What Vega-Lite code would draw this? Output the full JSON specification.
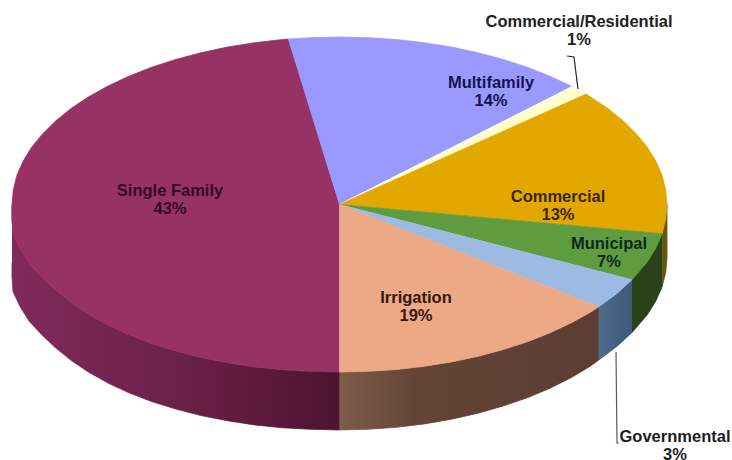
{
  "$schema": "https://vega.github.io/schema/vega-lite/v6.json",
  "width": 732,
  "height": 460,
  "padding": 0,
  "autosize": {"type": "none"},
  "background": "white",
  "view": {"stroke": null},
  "datasets": {
    "faces": [
      {"category":"Single Family","i":0,"x":0,"y":0},
      {"category":"Single Family","i":1,"x":-0.156,"y":0.988},
      {"category":"Single Family","i":2,"x":-0.174,"y":0.985},
      {"category":"Single Family","i":3,"x":-0.259,"y":0.966},
      {"category":"Single Family","i":4,"x":-0.342,"y":0.94},
      {"category":"Single Family","i":5,"x":-0.423,"y":0.906},
      {"category":"Single Family","i":6,"x":-0.5,"y":0.866},
      {"category":"Single Family","i":7,"x":-0.574,"y":0.819},
      {"category":"Single Family","i":8,"x":-0.643,"y":0.766},
      {"category":"Single Family","i":9,"x":-0.707,"y":0.707},
      {"category":"Single Family","i":10,"x":-0.766,"y":0.643},
      {"category":"Single Family","i":11,"x":-0.819,"y":0.574},
      {"category":"Single Family","i":12,"x":-0.866,"y":0.5},
      {"category":"Single Family","i":13,"x":-0.906,"y":0.423},
      {"category":"Single Family","i":14,"x":-0.94,"y":0.342},
      {"category":"Single Family","i":15,"x":-0.966,"y":0.259},
      {"category":"Single Family","i":16,"x":-0.985,"y":0.174},
      {"category":"Single Family","i":17,"x":-0.996,"y":0.087},
      {"category":"Single Family","i":18,"x":-1,"y":0},
      {"category":"Single Family","i":19,"x":-1,"y":-0.087},
      {"category":"Single Family","i":20,"x":-0.997,"y":-0.174},
      {"category":"Single Family","i":21,"x":-0.975,"y":-0.265},
      {"category":"Single Family","i":22,"x":-0.948,"y":-0.35},
      {"category":"Single Family","i":23,"x":-0.91,"y":-0.43},
      {"category":"Single Family","i":24,"x":-0.868,"y":-0.508},
      {"category":"Single Family","i":25,"x":-0.82,"y":-0.584},
      {"category":"Single Family","i":26,"x":-0.766,"y":-0.655},
      {"category":"Single Family","i":27,"x":-0.707,"y":-0.72},
      {"category":"Single Family","i":28,"x":-0.643,"y":-0.778},
      {"category":"Single Family","i":29,"x":-0.574,"y":-0.83},
      {"category":"Single Family","i":30,"x":-0.5,"y":-0.875},
      {"category":"Single Family","i":31,"x":-0.423,"y":-0.914},
      {"category":"Single Family","i":32,"x":-0.342,"y":-0.945},
      {"category":"Single Family","i":33,"x":-0.259,"y":-0.97},
      {"category":"Single Family","i":34,"x":-0.174,"y":-0.987},
      {"category":"Single Family","i":35,"x":-0.087,"y":-0.996},
      {"category":"Single Family","i":36,"x":0,"y":-1},

      {"category":"Multifamily","i":0,"x":0,"y":0},
      {"category":"Multifamily","i":1,"x":-0.156,"y":0.988},
      {"category":"Multifamily","i":2,"x":-0.087,"y":0.996},
      {"category":"Multifamily","i":3,"x":0,"y":1},
      {"category":"Multifamily","i":4,"x":0.087,"y":0.996},
      {"category":"Multifamily","i":5,"x":0.174,"y":0.985},
      {"category":"Multifamily","i":6,"x":0.259,"y":0.966},
      {"category":"Multifamily","i":7,"x":0.342,"y":0.94},
      {"category":"Multifamily","i":8,"x":0.423,"y":0.906},
      {"category":"Multifamily","i":9,"x":0.5,"y":0.866},
      {"category":"Multifamily","i":10,"x":0.574,"y":0.819},
      {"category":"Multifamily","i":11,"x":0.643,"y":0.766},
      {"category":"Multifamily","i":12,"x":0.71,"y":0.704},

      {"category":"Commercial/Residential","i":0,"x":0,"y":0},
      {"category":"Commercial/Residential","i":1,"x":0.71,"y":0.704},
      {"category":"Commercial/Residential","i":2,"x":0.73,"y":0.684},
      {"category":"Commercial/Residential","i":3,"x":0.753,"y":0.659},

      {"category":"Commercial","i":0,"x":0,"y":0},
      {"category":"Commercial","i":1,"x":0.753,"y":0.659},
      {"category":"Commercial","i":2,"x":0.819,"y":0.574},
      {"category":"Commercial","i":3,"x":0.866,"y":0.5},
      {"category":"Commercial","i":4,"x":0.906,"y":0.423},
      {"category":"Commercial","i":5,"x":0.94,"y":0.342},
      {"category":"Commercial","i":6,"x":0.966,"y":0.259},
      {"category":"Commercial","i":7,"x":0.985,"y":0.174},
      {"category":"Commercial","i":8,"x":0.996,"y":0.087},
      {"category":"Commercial","i":9,"x":1,"y":0},
      {"category":"Commercial","i":10,"x":0.996,"y":-0.087},
      {"category":"Commercial","i":11,"x":0.985,"y":-0.174},

      {"category":"Municipal","i":0,"x":0,"y":0},
      {"category":"Municipal","i":1,"x":0.985,"y":-0.174},
      {"category":"Municipal","i":2,"x":0.966,"y":-0.259},
      {"category":"Municipal","i":3,"x":0.94,"y":-0.342},
      {"category":"Municipal","i":4,"x":0.893,"y":-0.449},

      {"category":"Governmental","i":0,"x":0,"y":0},
      {"category":"Governmental","i":1,"x":0.893,"y":-0.449},
      {"category":"Governmental","i":2,"x":0.848,"y":-0.53},
      {"category":"Governmental","i":3,"x":0.792,"y":-0.61},

      {"category":"Irrigation","i":0,"x":0,"y":0},
      {"category":"Irrigation","i":1,"x":0.792,"y":-0.61},
      {"category":"Irrigation","i":2,"x":0.766,"y":-0.643},
      {"category":"Irrigation","i":3,"x":0.707,"y":-0.707},
      {"category":"Irrigation","i":4,"x":0.643,"y":-0.766},
      {"category":"Irrigation","i":5,"x":0.574,"y":-0.819},
      {"category":"Irrigation","i":6,"x":0.5,"y":-0.866},
      {"category":"Irrigation","i":7,"x":0.423,"y":-0.906},
      {"category":"Irrigation","i":8,"x":0.342,"y":-0.94},
      {"category":"Irrigation","i":9,"x":0.259,"y":-0.966},
      {"category":"Irrigation","i":10,"x":0.174,"y":-0.985},
      {"category":"Irrigation","i":11,"x":0.087,"y":-0.996},
      {"category":"Irrigation","i":12,"x":0,"y":-1}
    ],
    "walls": [
      {"category":"Single Family","i":0,"x":-1,"y":0},
      {"category":"Single Family","i":1,"x":-1,"y":-0.087},
      {"category":"Single Family","i":2,"x":-0.997,"y":-0.174},
      {"category":"Single Family","i":3,"x":-0.975,"y":-0.265},
      {"category":"Single Family","i":4,"x":-0.948,"y":-0.35},
      {"category":"Single Family","i":5,"x":-0.91,"y":-0.43},
      {"category":"Single Family","i":6,"x":-0.868,"y":-0.508},
      {"category":"Single Family","i":7,"x":-0.82,"y":-0.584},
      {"category":"Single Family","i":8,"x":-0.766,"y":-0.655},
      {"category":"Single Family","i":9,"x":-0.707,"y":-0.72},
      {"category":"Single Family","i":10,"x":-0.643,"y":-0.778},
      {"category":"Single Family","i":11,"x":-0.574,"y":-0.83},
      {"category":"Single Family","i":12,"x":-0.5,"y":-0.875},
      {"category":"Single Family","i":13,"x":-0.423,"y":-0.914},
      {"category":"Single Family","i":14,"x":-0.342,"y":-0.945},
      {"category":"Single Family","i":15,"x":-0.259,"y":-0.97},
      {"category":"Single Family","i":16,"x":-0.174,"y":-0.987},
      {"category":"Single Family","i":17,"x":-0.087,"y":-0.996},
      {"category":"Single Family","i":18,"x":0,"y":-1},
      {"category":"Single Family","i":19,"x":0,"y":-1.346},
      {"category":"Single Family","i":20,"x":-0.087,"y":-1.342},
      {"category":"Single Family","i":21,"x":-0.174,"y":-1.333},
      {"category":"Single Family","i":22,"x":-0.259,"y":-1.316},
      {"category":"Single Family","i":23,"x":-0.342,"y":-1.291},
      {"category":"Single Family","i":24,"x":-0.423,"y":-1.26},
      {"category":"Single Family","i":25,"x":-0.5,"y":-1.221},
      {"category":"Single Family","i":26,"x":-0.574,"y":-1.176},
      {"category":"Single Family","i":27,"x":-0.643,"y":-1.124},
      {"category":"Single Family","i":28,"x":-0.707,"y":-1.066},
      {"category":"Single Family","i":29,"x":-0.766,"y":-1.001},
      {"category":"Single Family","i":30,"x":-0.82,"y":-0.93},
      {"category":"Single Family","i":31,"x":-0.868,"y":-0.854},
      {"category":"Single Family","i":32,"x":-0.91,"y":-0.776},
      {"category":"Single Family","i":33,"x":-0.948,"y":-0.696},
      {"category":"Single Family","i":34,"x":-0.975,"y":-0.611},
      {"category":"Single Family","i":35,"x":-0.997,"y":-0.52},
      {"category":"Single Family","i":36,"x":-1,"y":-0.433},
      {"category":"Single Family","i":37,"x":-1,"y":-0.346},

      {"category":"Irrigation","i":0,"x":0,"y":-1},
      {"category":"Irrigation","i":1,"x":0.087,"y":-0.996},
      {"category":"Irrigation","i":2,"x":0.174,"y":-0.985},
      {"category":"Irrigation","i":3,"x":0.259,"y":-0.966},
      {"category":"Irrigation","i":4,"x":0.342,"y":-0.94},
      {"category":"Irrigation","i":5,"x":0.423,"y":-0.906},
      {"category":"Irrigation","i":6,"x":0.5,"y":-0.866},
      {"category":"Irrigation","i":7,"x":0.574,"y":-0.819},
      {"category":"Irrigation","i":8,"x":0.643,"y":-0.766},
      {"category":"Irrigation","i":9,"x":0.707,"y":-0.707},
      {"category":"Irrigation","i":10,"x":0.766,"y":-0.643},
      {"category":"Irrigation","i":11,"x":0.792,"y":-0.61},
      {"category":"Irrigation","i":12,"x":0.792,"y":-0.928},
      {"category":"Irrigation","i":13,"x":0.766,"y":-0.965},
      {"category":"Irrigation","i":14,"x":0.707,"y":-1.034},
      {"category":"Irrigation","i":15,"x":0.643,"y":-1.097},
      {"category":"Irrigation","i":16,"x":0.574,"y":-1.153},
      {"category":"Irrigation","i":17,"x":0.5,"y":-1.203},
      {"category":"Irrigation","i":18,"x":0.423,"y":-1.246},
      {"category":"Irrigation","i":19,"x":0.342,"y":-1.282},
      {"category":"Irrigation","i":20,"x":0.259,"y":-1.31},
      {"category":"Irrigation","i":21,"x":0.174,"y":-1.33},
      {"category":"Irrigation","i":22,"x":0.087,"y":-1.342},
      {"category":"Irrigation","i":23,"x":0,"y":-1.346},

      {"category":"Governmental","i":0,"x":0.792,"y":-0.61},
      {"category":"Governmental","i":1,"x":0.848,"y":-0.53},
      {"category":"Governmental","i":2,"x":0.893,"y":-0.449},
      {"category":"Governmental","i":3,"x":0.893,"y":-0.765},
      {"category":"Governmental","i":4,"x":0.848,"y":-0.846},
      {"category":"Governmental","i":5,"x":0.792,"y":-0.928},

      {"category":"Municipal","i":0,"x":0.893,"y":-0.449},
      {"category":"Municipal","i":1,"x":0.94,"y":-0.342},
      {"category":"Municipal","i":2,"x":0.966,"y":-0.259},
      {"category":"Municipal","i":3,"x":0.985,"y":-0.174},
      {"category":"Municipal","i":4,"x":0.985,"y":-0.492},
      {"category":"Municipal","i":5,"x":0.966,"y":-0.576},
      {"category":"Municipal","i":6,"x":0.94,"y":-0.658},
      {"category":"Municipal","i":7,"x":0.893,"y":-0.765},

      {"category":"Commercial","i":0,"x":0.985,"y":-0.174},
      {"category":"Commercial","i":1,"x":0.996,"y":-0.087},
      {"category":"Commercial","i":2,"x":1,"y":0},
      {"category":"Commercial","i":3,"x":1,"y":-0.32},
      {"category":"Commercial","i":4,"x":0.996,"y":-0.407},
      {"category":"Commercial","i":5,"x":0.985,"y":-0.492}
    ],
    "leaders": [
      {"category":"Commercial/Residential","i":0,"x":0.7282,"y":0.6896},
      {"category":"Commercial/Residential","i":1,"x":0.716,"y":0.8806},
      {"category":"Commercial/Residential","i":2,"x":0.6947,"y":0.8866},
      {"category":"Governmental","i":0,"x":0.8443,"y":-0.8806},
      {"category":"Governmental","i":1,"x":0.8473,"y":-1.4239},
      {"category":"Governmental","i":2,"x":0.8534,"y":-1.4239}
    ],
    "labels": [
      {"category":"Single Family","label":"Single Family\n43%","x":-0.5176,"y":0.0806},
      {"category":"Multifamily","label":"Multifamily\n14%","x":0.4626,"y":0.7254},
      {"category":"Commercial","label":"Commercial\n13%","x":0.6672,"y":0.0448},
      {"category":"Municipal","label":"Municipal\n7%","x":0.8229,"y":-0.2358},
      {"category":"Irrigation","label":"Irrigation\n19%","x":0.2336,"y":-0.5582},
      {"category":"Commercial/Residential","label":"Commercial/Residential\n1%","x":0.7313,"y":1.0866},
      {"category":"Governmental","label":"Governmental\n3%","x":1.0244,"y":-1.3851}
    ]
  },
  "encoding": {
    "x": {"field": "x", "type": "quantitative", "axis": null, "scale": {"domain": [-1.03664, 1.19847], "nice": false, "zero": false}},
    "y": {"field": "y", "type": "quantitative", "axis": null, "scale": {"domain": [-1.52537, 1.2209], "nice": false, "zero": false}}
  },
  "layer": [
    {
      "data": {"name": "walls"},
      "transform": [{"filter": "datum.category === 'Single Family'"}],
      "mark": {"type": "line", "strokeWidth": 0.8,
        "fill": {"gradient": "linear", "x1": 0, "y1": 0, "x2": 1, "y2": 0, "stops": [{"offset": 0, "color": "#80295c"}, {"offset": 0.5, "color": "#6c2149"}, {"offset": 1, "color": "#4e1331"}]},
        "stroke": {"gradient": "linear", "x1": 0, "y1": 0, "x2": 1, "y2": 0, "stops": [{"offset": 0, "color": "#80295c"}, {"offset": 0.5, "color": "#6c2149"}, {"offset": 1, "color": "#4e1331"}]}},
      "encoding": {"order": {"field": "i", "type": "quantitative"}}
    },
    {
      "data": {"name": "walls"},
      "transform": [{"filter": "datum.category === 'Irrigation'"}],
      "mark": {"type": "line", "strokeWidth": 0.8,
        "fill": {"gradient": "linear", "x1": 0, "y1": 0, "x2": 1, "y2": 0, "stops": [{"offset": 0, "color": "#7d5c4a"}, {"offset": 0.3, "color": "#644436"}, {"offset": 1, "color": "#5c3d33"}]},
        "stroke": {"gradient": "linear", "x1": 0, "y1": 0, "x2": 1, "y2": 0, "stops": [{"offset": 0, "color": "#7d5c4a"}, {"offset": 0.3, "color": "#644436"}, {"offset": 1, "color": "#5c3d33"}]}},
      "encoding": {"order": {"field": "i", "type": "quantitative"}}
    },
    {
      "data": {"name": "walls"},
      "transform": [{"filter": "datum.category === 'Governmental'"}],
      "mark": {"type": "line", "strokeWidth": 0.8,
        "fill": {"gradient": "linear", "x1": 0, "y1": 0, "x2": 1, "y2": 0, "stops": [{"offset": 0, "color": "#4d6c8c"}, {"offset": 1, "color": "#3f5878"}]},
        "stroke": {"gradient": "linear", "x1": 0, "y1": 0, "x2": 1, "y2": 0, "stops": [{"offset": 0, "color": "#4d6c8c"}, {"offset": 1, "color": "#3f5878"}]}},
      "encoding": {"order": {"field": "i", "type": "quantitative"}}
    },
    {
      "data": {"name": "walls"},
      "transform": [{"filter": "datum.category === 'Municipal'"}],
      "mark": {"type": "line", "strokeWidth": 0.8, "fill": "#29421a", "stroke": "#29421a"},
      "encoding": {"order": {"field": "i", "type": "quantitative"}}
    },
    {
      "data": {"name": "walls"},
      "transform": [{"filter": "datum.category === 'Commercial'"}],
      "mark": {"type": "line", "strokeWidth": 0.8, "fill": "#65550f", "stroke": "#65550f"},
      "encoding": {"order": {"field": "i", "type": "quantitative"}}
    },
    {
      "data": {"name": "faces"},
      "mark": {"type": "line", "strokeWidth": 0.8},
      "encoding": {
        "order": {"field": "i", "type": "quantitative"},
        "fill": {"field": "category", "type": "nominal", "legend": null, "scale": {
          "domain": ["Single Family", "Multifamily", "Commercial/Residential", "Commercial", "Municipal", "Governmental", "Irrigation"],
          "range": ["#963264", "#9999ff", "#ffffcc", "#e2a800", "#5f9c40", "#9bbbe3", "#eda886"]}},
        "stroke": {"field": "category", "type": "nominal", "legend": null, "scale": {
          "domain": ["Single Family", "Multifamily", "Commercial/Residential", "Commercial", "Municipal", "Governmental", "Irrigation"],
          "range": ["#963264", "#9999ff", "#ffffff", "#e2a800", "#5f9c40", "#9bbbe3", "#eda886"]}}
      }
    },
    {
      "data": {"name": "leaders"},
      "transform": [{"filter": "datum.category === 'Commercial/Residential'"}],
      "mark": {"type": "line", "stroke": "#222222", "strokeWidth": 1.2},
      "encoding": {"order": {"field": "i", "type": "quantitative"}}
    },
    {
      "data": {"name": "leaders"},
      "transform": [{"filter": "datum.category === 'Governmental'"}],
      "mark": {"type": "line", "stroke": "#5a5a5a", "strokeWidth": 1.2},
      "encoding": {"order": {"field": "i", "type": "quantitative"}}
    },
    {
      "data": {"name": "labels"},
      "mark": {"type": "text", "font": "Liberation Sans", "fontWeight": "bold", "fontSize": 16.5, "lineBreak": "\n", "lineHeight": 18, "align": "center", "baseline": "middle"},
      "encoding": {
        "text": {"field": "label", "type": "nominal"},
        "color": {"field": "category", "type": "nominal", "legend": null, "scale": {
          "domain": ["Single Family", "Multifamily", "Commercial/Residential", "Commercial", "Municipal", "Governmental", "Irrigation"],
          "range": ["#35082a", "#14144d", "#222222", "#3a2600", "#0c2a1c", "#1c1c24", "#33180f"]}}
      }
    }
  ]
}
